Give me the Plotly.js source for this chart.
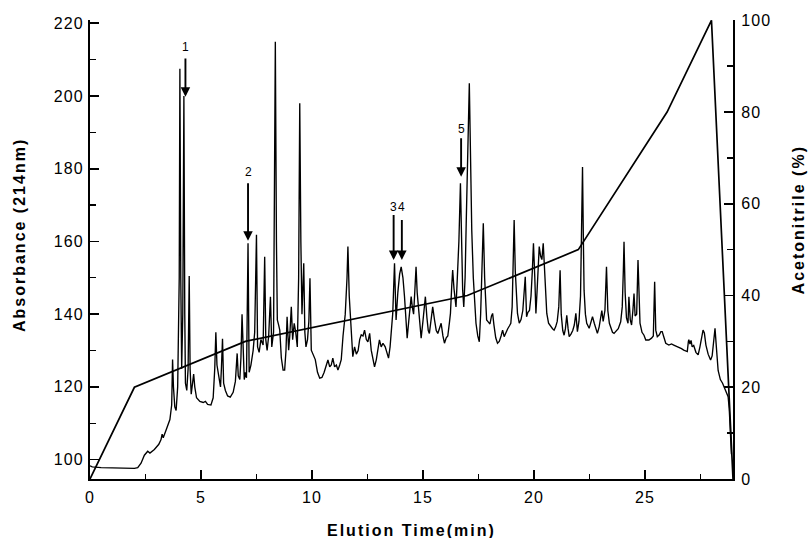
<!DOCTYPE html>
<html>
<head>
<meta charset="utf-8">
<script src="https://cdn.plot.ly/plotly-3.0.1.min.js"></script>
<style>
html,body{margin:0;padding:0;background:#fff;}
#chart{width:808px;height:538px;}
.xtick text, .ytick text, .y2tick text { letter-spacing: 1.1px; }
</style>
</head>
<body>
<div id="chart"></div>
<script>
// Chromatogram: elution time (min) and absorbance at 214 nm
const elutionTime = [
 0,0.1,0.5,1.0,1.5,2.0,2.15,2.3,2.45,2.6,2.7,2.9,3.1,3.2,3.25,3.3,3.45,3.6,3.68,3.72,
 3.76,3.82,3.88,3.95,4.02,4.05,4.09,4.13,4.18,4.23,4.27,4.3,4.36,4.42,4.47,4.51,4.56,4.62,4.67,4.72,
 4.8,4.95,5.1,5.2,5.3,5.45,5.55,5.62,5.67,5.72,5.8,5.88,5.92,5.97,6.02,6.1,6.2,6.32,6.45,6.55,
 6.63,6.68,6.75,6.8,6.85,6.9,6.95,7.0,7.05,7.12,7.17,7.25,7.35,7.42,7.5,7.55,7.62,7.7,7.8,7.87,
 7.92,7.98,8.05,8.13,8.19,8.27,8.35,8.4,8.44,8.5,8.55,8.62,8.7,8.77,8.83,8.88,8.95,9.0,9.07,9.13,
 9.2,9.27,9.34,9.4,9.45,9.5,9.55,9.63,9.68,9.73,9.8,9.86,9.91,9.97,10.05,10.15,10.25,10.35,10.45,10.55,
 10.65,10.72,10.8,10.87,10.94,11.02,11.1,11.17,11.25,11.32,11.4,11.5,11.58,11.62,11.68,11.74,11.84,11.92,12.0,12.08,
 12.15,12.22,12.3,12.37,12.45,12.52,12.6,12.67,12.75,12.82,12.9,12.97,13.04,13.12,13.2,13.3,13.38,13.45,13.52,13.58,
 13.64,13.72,13.79,13.87,13.95,14.02,14.1,14.17,14.24,14.29,14.36,14.4,14.47,14.52,14.58,14.64,14.69,14.74,14.82,14.88,
 14.92,15.0,15.05,15.11,15.18,15.24,15.29,15.36,15.44,15.52,15.6,15.67,15.75,15.82,15.9,15.97,16.05,16.12,16.2,16.24,
 16.3,16.34,16.4,16.45,16.49,16.55,16.62,16.69,16.74,16.79,16.84,16.9,16.95,17.0,17.05,17.09,17.14,17.2,17.27,17.33,
 17.39,17.47,17.54,17.6,17.65,17.72,17.78,17.82,17.87,17.95,18.02,18.09,18.14,18.2,18.28,18.36,18.44,18.52,18.59,18.66,
 18.74,18.82,18.9,18.96,19.02,19.08,19.11,19.16,19.22,19.26,19.34,19.42,19.5,19.56,19.61,19.67,19.73,19.8,19.87,19.93,
 19.98,20.04,20.09,20.14,20.2,20.24,20.3,20.36,20.42,20.48,20.53,20.58,20.66,20.76,20.84,20.91,20.98,21.05,21.12,21.18,
 21.23,21.3,21.36,21.42,21.48,21.54,21.59,21.67,21.75,21.82,21.89,21.96,22.03,22.1,22.15,22.19,22.23,22.26,22.32,22.38,
 22.49,22.57,22.64,22.72,22.8,22.86,22.94,23.01,23.06,23.12,23.2,23.27,23.33,23.4,23.46,23.54,23.61,23.7,23.8,23.91,
 23.98,24.03,24.06,24.11,24.17,24.24,24.28,24.34,24.4,24.46,24.51,24.56,24.63,24.69,24.74,24.78,24.87,24.96,25.04,25.18,
 25.3,25.38,25.44,25.49,25.56,25.65,25.72,25.78,25.85,25.94,26.08,26.2,26.3,26.42,26.53,26.65,26.75,26.85,26.91,26.96,
 26.98,27.03,27.08,27.13,27.2,27.3,27.4,27.48,27.56,27.62,27.68,27.75,27.85,27.96,28.03,28.1,28.16,28.22,28.3,28.4,
 28.5,28.63,28.75,28.8,28.85,28.9
];
const absorbance = [
 98.3,98.0,97.8,97.7,97.6,97.6,97.8,99.0,101.2,102.3,101.8,102.8,104.2,105.5,107.0,106.0,108.5,111.0,115.0,127.5,
 120.0,114.5,113.5,120.0,150.0,207.5,150.0,125.0,140.0,200.0,140.0,121.0,119.0,125.0,150.5,125.0,118.0,121.5,123.5,120.0,
 117.0,116.0,115.7,116.0,115.2,115.0,117.0,125.0,135.0,126.0,122.5,120.0,125.0,133.2,121.0,119.0,117.5,117.2,118.5,121.5,
 129.2,123.0,122.0,128.0,140.0,128.0,122.0,124.0,122.5,159.5,124.0,126.0,130.0,135.0,161.8,131.0,129.5,133.0,131.5,155.8,
 133.0,130.0,134.0,144.8,131.0,135.0,214.9,160.0,138.4,137.0,135.6,128.0,124.6,124.6,130.0,139.3,130.1,134.0,142.0,133.0,
 137.5,135.0,131.0,150.0,198.0,160.0,140.0,154.0,135.0,131.0,133.0,138.0,149.9,130.1,129.0,127.5,124.0,122.4,122.6,124.0,
 126.0,127.4,125.5,126.0,127.9,125.5,126.0,124.6,126.0,127.5,134.0,140.0,150.0,158.6,145.0,139.3,128.3,131.0,129.0,130.0,
 133.0,134.3,134.0,135.6,133.0,132.4,134.7,130.1,127.0,125.5,127.5,131.0,132.9,131.0,132.0,131.0,129.0,127.9,131.0,137.0,
 140.2,154.0,138.4,146.0,151.0,153.0,150.0,144.8,137.0,133.4,138.0,141.0,144.8,142.0,140.0,147.0,153.0,146.0,140.0,135.0,
 133.4,138.0,141.0,144.8,139.0,135.5,134.7,139.0,142.0,138.5,135.5,134.7,136.0,137.5,134.0,132.0,133.5,134.0,138.0,140.2,
 148.0,152.1,147.0,144.0,142.0,150.0,160.0,176.0,160.0,146.6,142.0,150.0,165.0,180.0,195.0,203.5,185.0,163.1,150.0,142.0,
 137.5,134.0,132.4,140.0,150.0,165.0,150.0,142.0,138.4,137.8,137.3,139.5,140.2,137.0,133.5,132.0,132.5,134.0,135.6,133.8,
 135.0,136.0,136.8,137.5,142.0,155.0,165.9,152.0,143.0,140.2,137.5,138.5,141.0,145.0,150.3,139.3,140.5,141.0,145.0,152.0,
 159.5,150.0,140.2,146.0,155.0,158.6,156.0,155.0,159.5,152.0,145.0,140.2,137.5,136.5,136.0,135.6,136.5,138.0,142.0,152.1,
 140.0,135.5,134.2,136.0,139.7,136.0,133.8,134.5,135.5,137.0,140.2,135.2,138.0,145.0,160.0,180.5,160.0,146.6,140.0,137.5,
 136.1,137.5,139.3,137.5,135.5,134.7,136.5,139.3,141.0,138.0,141.0,153.0,141.0,137.5,136.5,135.0,134.7,135.2,136.0,137.9,
 142.0,152.0,159.9,146.0,139.0,137.5,144.8,138.5,137.0,141.0,145.7,139.5,140.0,154.9,142.0,137.5,135.0,134.2,132.9,132.9,
 133.4,134.0,148.9,135.6,133.8,134.3,135.2,135.2,133.8,132.0,131.5,131.8,131.5,131.2,130.9,130.5,130.1,129.7,129.7,132.5,
 133.0,131.8,132.8,131.0,131.4,129.5,128.8,131.0,133.5,135.6,134.8,131.5,129.0,127.4,128.5,132.0,136.1,131.0,124.5,122.0,
 121.0,119.1,117.3,114.0,108.1,101.5
];
// Acetonitrile gradient (%)
const gradientTime = [0, 2, 7, 17, 22, 26, 28, 28.97];
const gradientPct  = [0, 20, 30, 40, 50, 80, 100, 0];

// Peak markers: label, time, arrow tail and tip (absorbance units)
const peakLabels = ['1','2','3','4','5'];
const peakTime   = [4.30, 7.12, 13.68, 14.05, 16.72];
const arrowTail  = [210.7, 176.4, 167.7, 166.3, 188.8];
const arrowTip   = [199.8, 160.2, 154.9, 154.9, 177.8];
const labelY     = [213.4, 179.0, 169.6, 169.6, 191.0];

const xTickVals = [0, 5, 10, 15, 20, 25];
const yTickVals = [100, 120, 140, 160, 180, 200, 220];
const y2TickVals = [0, 20, 40, 60, 80, 100];

const FONT = 'Arial, "Liberation Sans", Helvetica, sans-serif';

const traces = [
  { x: elutionTime, y: absorbance, type: 'scatter', mode: 'lines',
    line: { color: '#000', width: 1.35 }, yaxis: 'y', hoverinfo: 'skip' },
  { x: gradientTime, y: gradientPct, type: 'scatter', mode: 'lines',
    line: { color: '#000', width: 1.7 }, yaxis: 'y2', hoverinfo: 'skip' }
];

const annotations = [];
for (let i = 0; i < peakLabels.length; i++) {
  annotations.push({
    xref: 'x', yref: 'y', axref: 'x', ayref: 'y',
    x: peakTime[i], y: arrowTip[i], ax: peakTime[i], ay: arrowTail[i],
    text: '', showarrow: true, arrowhead: 2, arrowsize: 1.0, arrowwidth: 1.9, arrowcolor: '#000'
  });
  annotations.push({
    xref: 'x', yref: 'y', x: peakTime[i], y: labelY[i], text: peakLabels[i],
    showarrow: false, xanchor: 'center', yanchor: 'middle',
    font: { family: FONT, size: 12, color: '#000' }
  });
}
annotations.push({
  xref: 'paper', yref: 'paper', x: 0.5, y: -0.113, xanchor: 'center', yanchor: 'middle',
  text: 'Elution Time(min)', showarrow: false,
  font: { family: FONT, size: 16, weight: 700, color: '#000' }
});
annotations.push({
  xref: 'paper', yref: 'paper', x: -0.1085, y: 0.532, xanchor: 'center', yanchor: 'middle',
  text: 'Absorbance (214nm)', textangle: -90, showarrow: false,
  font: { family: FONT, size: 16, weight: 700, color: '#000' }
});
annotations.push({
  xref: 'paper', yref: 'paper', x: 1.1015, y: 0.564, xanchor: 'center', yanchor: 'middle',
  text: 'Acetonitrile (%)', textangle: -90, showarrow: false,
  font: { family: FONT, size: 16, weight: 700, color: '#000' }
});

const axisCommon = {
  showgrid: false, zeroline: false, showline: true, linecolor: '#000', linewidth: 2,
  ticks: 'inside', ticklen: 9, tickwidth: 1.6, tickcolor: '#000',
  tickfont: { family: FONT, size: 16, color: '#000' }
};

const layout = {
  width: 808, height: 538,
  margin: { l: 90, r: 75, t: 20, b: 59 },
  paper_bgcolor: '#fff', plot_bgcolor: '#fff',
  showlegend: false,
  font: { family: FONT, color: '#000' },
  xaxis: Object.assign({}, axisCommon, {
    range: [0, 28.97], tickmode: 'array', tickvals: xTickVals, ticklabelstandoff: 3,
    minor: { ticks: 'inside', dtick: 2.5, tick0: 0, ticklen: 5, tickwidth: 1.4, tickcolor: '#000', showgrid: false }
  }),
  yaxis: Object.assign({}, axisCommon, {
    range: [94.66, 220.9], tickmode: 'array', tickvals: yTickVals, ticklabelstandoff: 1,
    minor: { ticks: 'inside', dtick: 10, tick0: 0, ticklen: 6, tickwidth: 1.4, tickcolor: '#000', showgrid: false }
  }),
  yaxis2: Object.assign({}, axisCommon, {
    overlaying: 'y', side: 'right', range: [0, 100.07], tickmode: 'array', tickvals: y2TickVals, ticklabelstandoff: 3,
    minor: { ticks: 'inside', dtick: 10, tick0: 0, ticklen: 6, tickwidth: 1.4, tickcolor: '#000', showgrid: false }
  }),
  annotations: annotations
};

Plotly.newPlot('chart', traces, layout, { staticPlot: true, displayModeBar: false }).then(function (gd) {
  gd.querySelectorAll('.annotation-text').forEach(function (t) {
    if (t.textContent.length > 2) t.style.letterSpacing = '2px';
  });
});
</script>
</body>
</html>
